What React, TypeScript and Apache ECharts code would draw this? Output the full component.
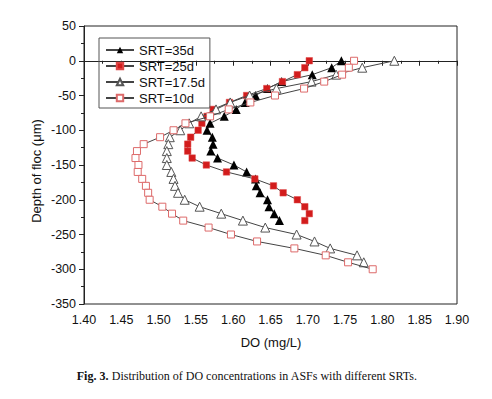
import React, { useEffect, useRef } from "react";
import * as echarts from "echarts";

const depths = [0, -10, -20, -30, -40, -50, -60, -70, -80, -90, -100, -110, -120, -130, -140, -150, -160, -170, -180, -190, -200, -210, -220, -230, -240, -250, -260, -270, -280, -290, -300];

const do35 = [1.745, 1.732, 1.706, 1.665, 1.646, 1.63, 1.616, 1.604, 1.588, 1.569, 1.565, 1.572, 1.573, 1.57, 1.579, 1.601, 1.618, 1.63, 1.631, 1.636, 1.646, 1.648, 1.655, 1.662];
const do25 = [1.702, 1.696, 1.686, 1.666, 1.645, 1.618, 1.595, 1.573, 1.565, 1.558, 1.553, 1.543, 1.539, 1.539, 1.545, 1.564, 1.591, 1.629, 1.654, 1.667, 1.686, 1.696, 1.702, 1.696];
const do17 = [1.816, 1.773, 1.738, 1.705, 1.658, 1.622, 1.596, 1.577, 1.557, 1.541, 1.529, 1.515, 1.513, 1.511, 1.511, 1.511, 1.517, 1.52, 1.522, 1.526, 1.535, 1.555, 1.584, 1.613, 1.643, 1.685, 1.709, 1.73, 1.766, 1.775];
const do10 = [1.762, 1.755, 1.746, 1.722, 1.695, 1.656, 1.623, 1.594, 1.569, 1.536, 1.52, 1.502, 1.48, 1.471, 1.469, 1.473, 1.472, 1.478, 1.483, 1.486, 1.488, 1.505, 1.518, 1.533, 1.567, 1.597, 1.632, 1.682, 1.724, 1.754, 1.787];

const seriesNames = ["SRT=35d", "SRT=25d", "SRT=17.5d", "SRT=10d"];

const xTitle = "DO (mg/L)";
const yTitle = "Depth of floc (\u03bcm)";
const captionBold = "Fig. 3.";
const captionRest = " Distribution of DO concentrations in ASFs with different SRTs.";

const FONT = "'Liberation Sans', Arial, sans-serif";
const SERIF = "'Liberation Serif', 'Times New Roman', serif";

function pairs(values: number[]) {
  return values.map((v, i) => [v, depths[i]]);
}

export default function App() {
  const ref = useRef<HTMLDivElement>(null);

  useEffect(() => {
    if (!ref.current) return;
    const chart = echarts.init(ref.current, undefined, { renderer: "svg" });
    const lineStyle = { color: "#444", width: 1 };
    const option: any = {
      animation: false,
      backgroundColor: "#fff",
      textStyle: { fontFamily: FONT },
      grid: {
        left: 84,
        right: 35,
        top: 26,
        bottom: 95,
        show: true,
        borderColor: "#222",
        borderWidth: 1,
        backgroundColor: "transparent",
      },
      legend: {
        data: seriesNames,
        orient: "vertical",
        left: 99,
        top: 38,
        itemWidth: 28,
        itemHeight: 8,
        itemGap: 2,
        padding: [5, 5, 3, 6],
        borderColor: "#555",
        borderWidth: 1,
        textStyle: { fontFamily: FONT, fontSize: 13, color: "#111", lineHeight: 14 },
      },
      xAxis: {
        type: "value",
        min: 1.4,
        max: 1.9,
        interval: 0.05,
        axisLine: { show: true, lineStyle: { color: "#222", width: 1 } },
        axisTick: { show: true, inside: false, length: 5, lineStyle: { color: "#222" } },
        minorTick: { show: true, splitNumber: 2, length: 3, lineStyle: { color: "#222" } },
        splitLine: { show: false },
        axisLabel: {
          margin: 9,
          fontFamily: FONT,
          fontSize: 12.5,
          color: "#111",
          formatter: (v: number) => v.toFixed(2),
        },
      },
      yAxis: {
        type: "value",
        min: -350,
        max: 50,
        interval: 50,
        axisLine: { show: true, lineStyle: { color: "#222", width: 1 } },
        axisTick: { show: true, inside: false, length: 5, lineStyle: { color: "#222" } },
        minorTick: { show: true, splitNumber: 2, length: 3, lineStyle: { color: "#222" } },
        splitLine: { show: false },
        axisLabel: { margin: 8, fontFamily: FONT, fontSize: 12.5, color: "#111" },
      },
      graphic: [
        {
          type: "text",
          x: 271,
          y: 342,
          style: {
            text: xTitle,
            font: `13px ${FONT}`,
            fill: "#111",
            align: "center",
            verticalAlign: "middle",
          },
        },
        {
          type: "text",
          x: 36,
          y: 171,
          rotation: Math.PI / 2,
          style: {
            text: yTitle,
            font: `13px ${FONT}`,
            fill: "#111",
            align: "center",
            verticalAlign: "middle",
          },
        },
        {
          type: "text",
          x: 247,
          y: 376,
          style: {
            text: `{b|${captionBold}}{n|${captionRest}}`,
            align: "center",
            verticalAlign: "middle",
            rich: {
              b: { fontFamily: SERIF, fontSize: 12, fontWeight: "bold", fill: "#111" },
              n: { fontFamily: SERIF, fontSize: 12, fill: "#111" },
            },
          },
        },
      ],
      series: [
        {
          name: seriesNames[0],
          type: "line",
          data: pairs(do35),
          symbol: "triangle",
          symbolSize: 9,
          lineStyle,
          itemStyle: { color: "#000", borderColor: "#000", borderWidth: 0 },
          z: 2,
        },
        {
          name: seriesNames[1],
          type: "line",
          data: pairs(do25),
          symbol: "rect",
          symbolSize: 6.5,
          lineStyle,
          itemStyle: { color: "#d21c1c", borderColor: "#e04848", borderWidth: 0.5 },
          z: 3,
        },
        {
          name: seriesNames[2],
          type: "line",
          data: pairs(do17),
          symbol: "triangle",
          symbolSize: 9,
          lineStyle,
          itemStyle: { color: "#fff", borderColor: "#555", borderWidth: 1 },
          z: 4,
        },
        {
          name: seriesNames[3],
          type: "line",
          data: pairs(do10),
          symbol: "rect",
          symbolSize: 7,
          lineStyle,
          itemStyle: { color: "#fff", borderColor: "#dd6a6a", borderWidth: 1 },
          z: 5,
        },
      ],
    };
    chart.setOption(option);
    return () => chart.dispose();
  }, []);

  return (
    <div
      ref={ref}
      style={{ position: "fixed", left: 0, top: 0, width: 492, height: 399, background: "#fff" }}
    />
  );
}
